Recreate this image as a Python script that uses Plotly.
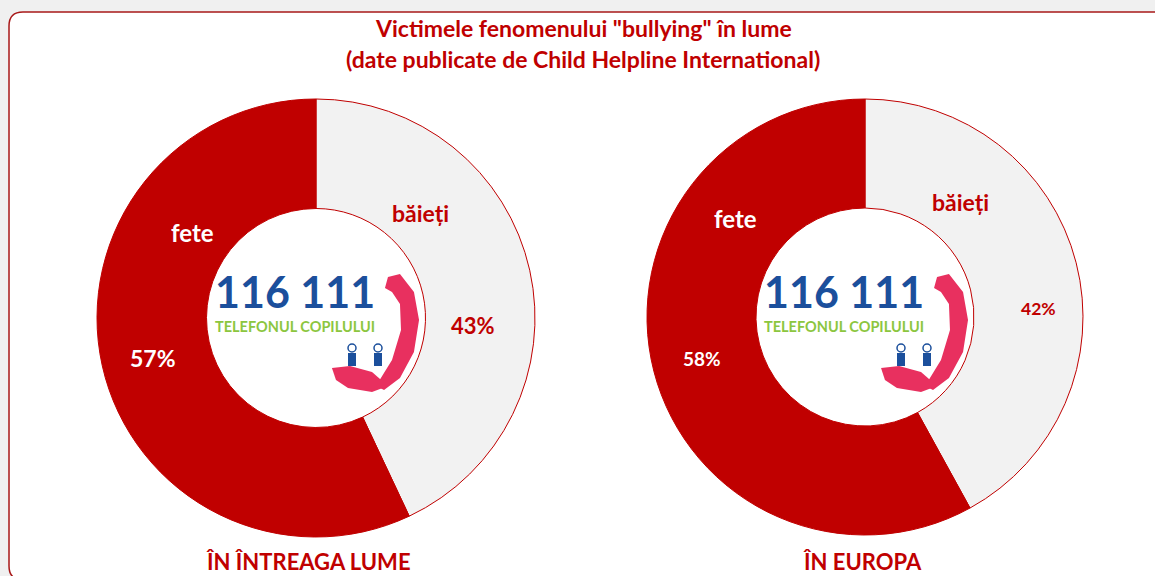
import plotly.graph_objects as go

# data
labels = ["băieți", "fete"]
world_values = [43, 57]
europe_values = [42, 58]
panel_titles = ["ÎN ÎNTREAGA LUME", "ÎN EUROPA"]
title_lines = ['Victimele fenomenului "bullying" în lume',
               "(date publicate de Child Helpline International)"]

W, H = 1155, 576
RED = "#C00000"
GRAY = "#F2F2F2"
FONT = "Lato"


def px(x):
    return x / W


def py(y):
    return 1 - y / H


def path(points, close=True):
    s = "M " + " L ".join(f"{px(x):.4f},{py(y):.4f}" for x, y in points)
    return s + (" Z" if close else "")


fig = go.Figure()

# the two donuts, pixel boxes converted to paper domains
boxes = [(97, 99, 535, 537), (647, 99, 1083, 535)]
for vals, (x0, y0, x1, y1) in zip([world_values, europe_values], boxes):
    fig.add_trace(go.Pie(
        labels=labels, values=vals, hole=0.5, sort=False,
        direction="clockwise", rotation=0,
        marker=dict(colors=[GRAY, RED], line=dict(color=RED, width=1)),
        textinfo="none", hoverinfo="label+percent", showlegend=False,
        domain=dict(x=[px(x0), px(x1)], y=[py(y1), py(y0)]),
    ))

ann = []
# title
for i, t in enumerate(title_lines):
    ann.append(dict(x=px(583), y=py(28 + 31 * i), text=f"<b>{t}</b>",
                    font=dict(size=23, color=RED, family=FONT)))

# slice labels (fete / băieți and percentages)
lab_pos = [
    dict(fete=(192, 233), pf=(153, 358), b=(420, 213), pb=(473, 325), sf=23, sb=22),
    dict(fete=(735, 218), pf=(702, 358), b=(960, 202), pb=(1038, 308), sf=19, sb=17.5),
]
for vals, p in zip([world_values, europe_values], lab_pos):
    ann.append(dict(x=px(p["fete"][0]), y=py(p["fete"][1]), text=f"<b>{labels[1]}</b>",
                    font=dict(size=24, color="white", family=FONT)))
    ann.append(dict(x=px(p["pf"][0]), y=py(p["pf"][1]), text=f"<b>{vals[1]}%</b>",
                    font=dict(size=p["sf"], color="white", family=FONT)))
    ann.append(dict(x=px(p["b"][0]), y=py(p["b"][1]), text=f"<b>{labels[0]}</b>",
                    font=dict(size=23, color=RED, family=FONT)))
    ann.append(dict(x=px(p["pb"][0]), y=py(p["pb"][1]), text=f"<b>{vals[0]}%</b>",
                    font=dict(size=p["sb"], color=RED, family=FONT)))

# panel captions
for t, cx in zip(panel_titles, [308, 862]):
    ann.append(dict(x=px(cx), y=py(561), text=f"<b>{t}</b>",
                    font=dict(size=22, color=RED, family=FONT)))

shapes = []
# outer panel with rounded corners (bottom edge just below the window)
r = 14
L, T, R, B = 9, 12, 1175, 580
frame = (f"M {px(L):.4f},{py(T + r):.4f} Q {px(L):.4f},{py(T):.4f} {px(L + r):.4f},{py(T):.4f} "
         f"L {px(R):.4f},{py(T):.4f} L {px(R):.4f},{py(B):.4f} "
         f"L {px(L + r):.4f},{py(B):.4f} Q {px(L):.4f},{py(B):.4f} {px(L):.4f},{py(B - r):.4f} Z")
shapes.append(dict(type="path", xref="paper", yref="paper", path=frame, layer="below",
                   fillcolor="white", line=dict(color="#A81818", width=1.5)))

# 116 111 logo in each hole
for dx in [0, 549]:
    ann.append(dict(x=px(295 + dx), y=py(291), text="<b>116 111</b>",
                    font=dict(size=43, color="#1B4F9C", family=FONT)))
    ann.append(dict(x=px(295 + dx), y=py(326), text="<b>TELEFONUL COPILULUI</b>",
                    font=dict(size=14.5, color="#8CC63F", family=FONT)))
    # pink handset
    handset = [(388, 277), (400, 274), (414, 292), (419, 320), (414, 352), (400, 378), (384, 390),
               (376, 386), (392, 360), (401, 330), (400, 304), (392, 292), (385, 288)]
    shapes.append(dict(type="path", xref="paper", yref="paper",
                       path=path([(x + dx, y) for x, y in handset]),
                       fillcolor="#E8305F", line=dict(width=0)))
    hand = [(332, 368), (350, 366), (372, 372), (388, 386), (372, 392), (348, 388), (336, 380)]
    shapes.append(dict(type="path", xref="paper", yref="paper",
                       path=path([(x + dx, y) for x, y in hand]),
                       fillcolor="#E8305F", line=dict(width=0)))
    # two little kids
    for kx in [352, 378]:
        shapes.append(dict(type="circle", xref="paper", yref="paper",
                           x0=px(kx - 4 + dx), x1=px(kx + 4 + dx), y0=py(352), y1=py(344),
                           fillcolor="white", line=dict(color="#1B4F9C", width=1.5)))
        shapes.append(dict(type="rect", xref="paper", yref="paper",
                           x0=px(kx - 4 + dx), x1=px(kx + 4 + dx), y0=py(366), y1=py(353),
                           fillcolor="#1B4F9C", line=dict(width=0)))

for a in ann:
    a.update(xref="paper", yref="paper", showarrow=False, xanchor="center", yanchor="middle")

fig.update_layout(
    width=W, height=H,
    margin=dict(l=0, r=0, t=0, b=0),
    paper_bgcolor="#F0F0F0",
    plot_bgcolor="#F0F0F0",
    annotations=ann,
    shapes=shapes,
    font=dict(family=FONT),
)

# drop the default page margin so the figure fills the window exactly
fig.write_html("out.html", config={"displayModeBar": False},
               post_script="document.body.style.margin='0';")
